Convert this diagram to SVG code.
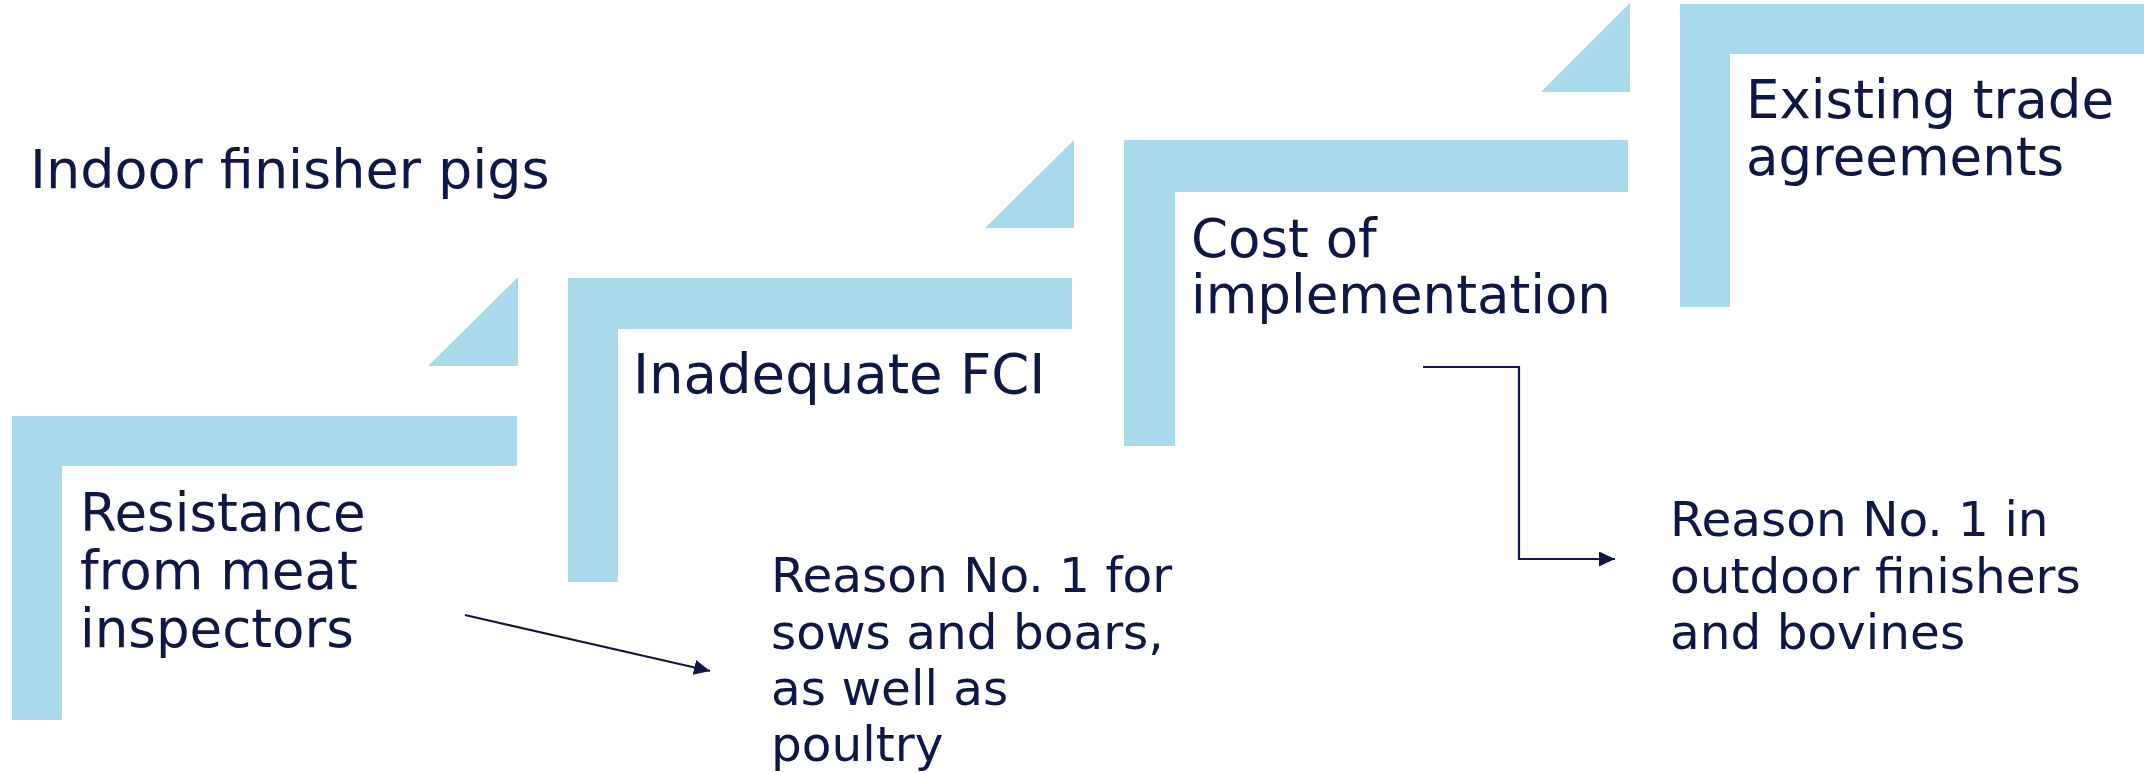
<svg xmlns="http://www.w3.org/2000/svg" width="2144" height="774" viewBox="0 0 2144 774">
  <style>
    .bar { fill: #A8DAEB; }
    .lbl { font-family: "DejaVu Sans", Verdana, sans-serif; fill: #0F1747; font-size: 53px; }
    .note { font-family: "DejaVu Sans", Verdana, sans-serif; fill: #0F1747; font-size: 48.5px; }
    .conn { fill: none; stroke: #0F1747; stroke-width: 2.2; }
  </style>
  <defs>
    <marker id="arr" markerUnits="userSpaceOnUse" markerWidth="18" markerHeight="16" refX="16" refY="7.5" orient="auto">
      <path d="M0,0 L16,7.5 L0,15 z" fill="#0F1747"/>
    </marker>
  </defs>
  <rect width="2144" height="774" fill="#FFFFFF"/>

  <g id="title">
    <text class="lbl" x="30" y="188" style="font-size:54px">Indoor finisher pigs</text>
  </g>

  <g id="step1">
    <path class="bar" d="M12,416 H517 V466 H62 V720 H12 Z"/>
    <path class="bar" d="M428,366 L518,277 L518,366 Z"/>
    <text class="lbl" x="80" y="531">Resistance</text>
    <text class="lbl" x="80" y="589">from meat</text>
    <text class="lbl" x="80" y="647">inspectors</text>
  </g>

  <g id="step2">
    <path class="bar" d="M568,278 H1072 V329 H618 V582 H568 Z"/>
    <path class="bar" d="M985,228 L1074,140 L1074,228 Z"/>
    <text class="lbl" x="633" y="393" style="font-size:54.5px">Inadequate FCI</text>
  </g>

  <g id="step3">
    <path class="bar" d="M1124,140 H1628 V192 H1175 V446 H1124 Z"/>
    <path class="bar" d="M1541,92 L1630,3 L1630,92 Z"/>
    <text class="lbl" x="1191" y="257">Cost of</text>
    <text class="lbl" x="1191" y="313">implementation</text>
  </g>

  <g id="step4">
    <path class="bar" d="M1680,4 H2144 V54 H1730 V307 H1680 Z"/>
    <text class="lbl" x="1746" y="118">Existing trade</text>
    <text class="lbl" x="1746" y="175">agreements</text>
  </g>

  <g id="note1">
    <text class="note" x="771" y="592">Reason No. 1 for</text>
    <text class="note" x="771" y="649">sows and boars,</text>
    <text class="note" x="771" y="705">as well as</text>
    <text class="note" x="771" y="761">poultry</text>
  </g>

  <g id="note2">
    <text class="note" x="1670" y="536">Reason No. 1 in</text>
    <text class="note" x="1670" y="593">outdoor finishers</text>
    <text class="note" x="1670" y="649">and bovines</text>
  </g>

  <g id="connectors">
    <path class="conn" d="M465,615 L710,671" marker-end="url(#arr)"/>
    <path class="conn" d="M1423,367 H1519 V559 H1615" marker-end="url(#arr)"/>
  </g>
</svg>
